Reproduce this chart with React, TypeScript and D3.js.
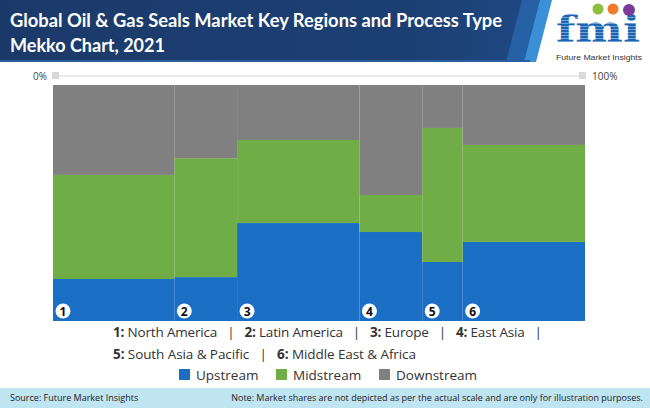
import React from "react";
import * as d3 from "d3";

const regions = ["North America", "Latin America", "Europe", "East Asia", "South Asia & Pacific", "Middle East & Africa"];
const regionShare = [22.8, 11.8, 23.0, 11.8, 7.6, 23.0];
const upstream = [17.8, 18.6, 41.5, 37.7, 25.0, 33.5];
const midstream = [44.1, 50.4, 35.2, 15.7, 56.8, 41.1];
const downstream = [38.1, 31.0, 23.3, 46.6, 18.2, 25.4];
const seriesNames = ["Upstream", "Midstream", "Downstream"];
const seriesColors = ["#1a6ec4", "#71ad47", "#808080"];
const axisLabels = ["0%", "100%"];

const W = 650, H = 408;
const plot = { left: 53, right: 585, top: 85, bottom: 321 };

export default function App() {
  const total = d3.sum(regionShare);
  const cum = d3.cumsum(regionShare);
  const x = d3.scaleLinear().domain([0, total]).range([plot.left, plot.right]);
  const y = d3.scaleLinear().domain([0, 100]).range([plot.bottom, plot.top]);

  const rows = regions.map((r, i) => ({ region: r, Upstream: upstream[i], Midstream: midstream[i], Downstream: downstream[i], x0: cum[i] - regionShare[i], x1: cum[i] }));
  const stack = d3.stack<any>().keys(seriesNames)(rows);

  const font = "Lato, 'Open Sans', sans-serif";
  const lf = "'Open Sans', sans-serif";

  const legend1 = [0, 1, 2, 3];
  const legend2 = [4, 5];

  return (
    <svg width={W} height={H} style={{ position: "absolute", left: 0, top: 0, background: "#fff" }} fontFamily={font}>
      <defs>
        <linearGradient id="hdr" x1="0" x2="1" y1="0" y2="0">
          <stop offset="0" stopColor="#1b3a6a" />
          <stop offset="0.75" stopColor="#1c3f73" />
          <stop offset="1" stopColor="#1f4a85" />
        </linearGradient>
        <pattern id="stripe" width="4" height="3" patternUnits="userSpaceOnUse">
          <rect width="4" height="2" fill="#1e64b0" />
          <rect y="2" width="4" height="1" fill="#6fa3d8" />
        </pattern>
      </defs>
      {/* header */}
      <polygon points="0,0 548,0 532,62 0,62" fill="url(#hdr)" />
      <polygon points="522,0 548,0 532,62 506,62" fill="#2a6cb5" opacity={0.7} />
      <polygon points="540,0 552,0 536,62 524,62" fill="#3b8fd6" />
      <rect x={0} y={60} width={530} height={2} fill="#2c5d9a" />
      <text x={10} y={27} fill="#fff" fontSize={18} fontWeight={700} textLength={492} lengthAdjust="spacingAndGlyphs">Global Oil &amp; Gas Seals Market Key Regions and Process Type</text>
      <text x={10} y={52} fill="#fff" fontSize={18} fontWeight={700} textLength={155} lengthAdjust="spacingAndGlyphs">Mekko Chart, 2021</text>
      {/* logo */}
      <g>
        <text x={598} y={42} textAnchor="middle" fontFamily="'DejaVu Serif', serif" fontWeight={700} fontSize={37} fill="url(#stripe)" textLength={84} lengthAdjust="spacingAndGlyphs">fmi</text>
        <circle cx={598} cy={9} r={5.5} fill="#8bbf3f" />
        <circle cx={613} cy={9} r={5.5} fill="#f07c2a" />
        <circle cx={629} cy={10} r={6} fill="#7a3b98" />
        <text x={599} y={60} textAnchor="middle" fontSize={8} fill="#333" fontFamily="'Liberation Sans', sans-serif" textLength={86} lengthAdjust="spacingAndGlyphs">Future Market Insights</text>
      </g>
      {/* top axis */}
      <line x1={plot.left} x2={plot.right} y1={76} y2={76} stroke="#d9d9d9" strokeWidth={1} />
      <rect x={plot.left - 1} y={72} width={7} height={7} fill="#d9d9d9" />
      <rect x={plot.right - 6} y={72} width={7} height={7} fill="#d9d9d9" />
      <text x={47} y={80} textAnchor="end" fontSize={10} fill="#444" fontFamily={lf}>{axisLabels[0]}</text>
      <text x={592} y={80} textAnchor="start" fontSize={10} fill="#444" fontFamily={lf}>{axisLabels[1]}</text>
      {/* bars */}
      {stack.map((s, si) => (
        <g key={s.key} fill={seriesColors[si]}>
          {s.map((d: any, i: number) => (
            <rect key={i} x={x(d.data.x0)} width={x(d.data.x1) - x(d.data.x0)} y={y(d[1])} height={y(d[0]) - y(d[1])} />
          ))}
        </g>
      ))}
      {cum.slice(0, -1).map((c, i) => (
        <line key={i} x1={x(c)} x2={x(c)} y1={plot.top} y2={plot.bottom} stroke="#8fdcec" strokeWidth={1.3} />
      ))}
      {rows.map((r, i) => (
        <g key={i}>
          <circle cx={x(r.x0) + 10} cy={311} r={7.5} fill="#fff" />
          <text x={x(r.x0) + 10} y={315.5} textAnchor="middle" fontSize={12} fontWeight={700} fill="#111" fontFamily={lf}>{i + 1}</text>
        </g>
      ))}
      {/* legend text */}
      <text x={113} y={337} fontSize={13.5} fill="#333" fontFamily={lf} xmlSpace="preserve" textLength={429} lengthAdjust="spacing">
        {legend1.map((k, i) => (
          <React.Fragment key={i}>
            <tspan fontWeight={700}>{k + 1}:</tspan>
            <tspan>{" " + regions[k] + "   |" + (i < legend1.length - 1 ? "   " : "")}</tspan>
          </React.Fragment>
        ))}
      </text>
      <text x={113} y={359} fontSize={13.5} fill="#333" fontFamily={lf} xmlSpace="preserve" textLength={303} lengthAdjust="spacing">
        {legend2.map((k, i) => (
          <React.Fragment key={i}>
            <tspan fontWeight={700}>{k + 1}:</tspan>
            <tspan>{" " + regions[k] + (i === 0 ? "   |   " : "")}</tspan>
          </React.Fragment>
        ))}
      </text>
      {seriesNames.map((s, i) => {
        const xs = [179, 276, 379][i];
        return (
          <g key={s}>
            <rect x={xs} y={369} width={11} height={11} fill={seriesColors[i]} />
            <text x={xs + 17} y={380} fontSize={13.5} fill="#333" fontFamily={lf}>{s}</text>
          </g>
        );
      })}
      {/* footer */}
      <rect x={0} y={388} width={W} height={20} fill="#bfe4f2" />
      <text x={10} y={401} fontSize={9} fill="#222" fontFamily={lf}>Source: Future Market Insights</text>
      <text x={643} y={401} textAnchor="end" fontSize={9} fill="#222" fontFamily={lf}>Note: Market shares are not depicted as per the actual scale and are only for illustration purposes.</text>
    </svg>
  );
}
